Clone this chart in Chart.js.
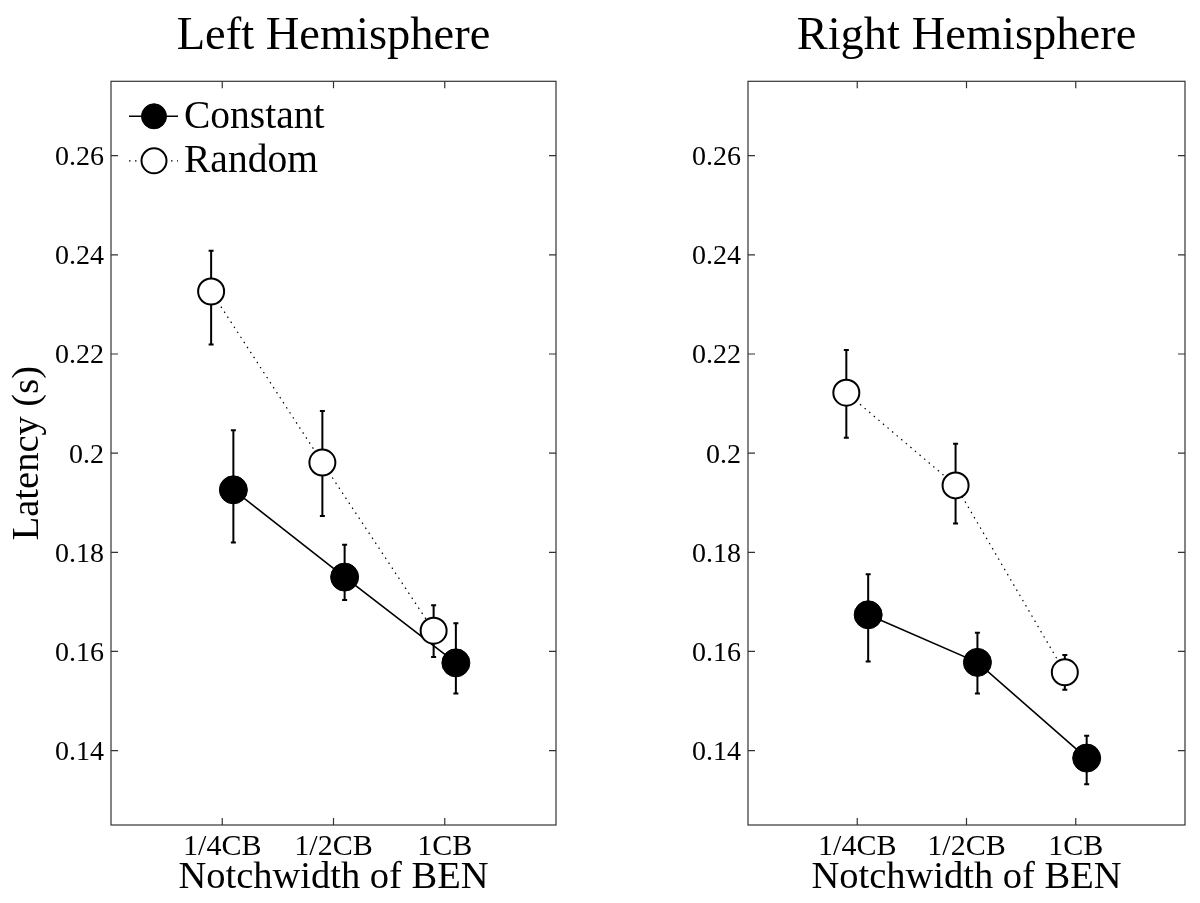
<!DOCTYPE html>
<html><head><meta charset="utf-8">
<script src="https://cdn.jsdelivr.net/npm/chart.js@4.4.1/dist/chart.umd.min.js"></script>
<style>
html,body{margin:0;padding:0;background:#fff;}
#wrap{position:relative;width:1200px;height:903px;overflow:hidden;}
#wrap canvas{position:absolute;top:0;}
</style></head>
<body><div id="wrap"><canvas id="leftChart" width="600" height="903" style="left:0;"></canvas><canvas id="rightChart" width="600" height="903" style="left:600px;"></canvas></div>
<script>
// ---------- data ----------
const categories = ['1/4CB', '1/2CB', '1CB'];
const categoryPositions = [1, 2, 3];
const seriesNames = ['Constant', 'Random'];
const yTickValues = [0.14, 0.16, 0.18, 0.20, 0.22, 0.24, 0.26];
const yTickLabels = ['0.14', '0.16', '0.18', '0.2', '0.22', '0.24', '0.26'];
const panelTitles = ['Left Hemisphere', 'Right Hemisphere'];
const xAxisTitle = 'Notchwidth of BEN';
const yAxisTitle = 'Latency (s)';

const leftConstant      = [0.1926, 0.1750, 0.1577];
const leftConstantUpper = [0.2046, 0.1815, 0.1657];
const leftConstantLower = [0.1820, 0.1704, 0.1515];
const leftRandom        = [0.2326, 0.1981, 0.1642];
const leftRandomUpper   = [0.2408, 0.2085, 0.1693];
const leftRandomLower   = [0.2219, 0.1873, 0.1589];

const rightConstant      = [0.1674, 0.1578, 0.1385];
const rightConstantUpper = [0.1756, 0.1638, 0.1430];
const rightConstantLower = [0.1580, 0.1515, 0.1332];
const rightRandom        = [0.2122, 0.1935, 0.1558];
const rightRandomUpper   = [0.2208, 0.2019, 0.1593];
const rightRandomLower   = [0.2031, 0.1858, 0.1523];

// ---------- styling ----------
const FONT = "'Liberation Serif', 'Times New Roman', serif";
const AXIS_COLOR = '#333333';
const DODGE = { Constant: 0.1, Random: -0.1 };

function pts(values, name) {
  return values.map((v, i) => ({ x: categoryPositions[i] + DODGE[name], y: v }));
}

const errorBarPlugin = {
  id: 'errorBars',
  beforeDatasetsDraw(chart) {
    const ctx = chart.ctx;
    const ys = chart.scales.y;
    ctx.save();
    ctx.strokeStyle = '#000';
    ctx.lineWidth = 2;
    chart.data.datasets.forEach((ds, di) => {
      const meta = chart.getDatasetMeta(di);
      meta.data.forEach((el, i) => {
        const x = el.x;
        const yt = ys.getPixelForValue(ds.errUpper[i]);
        const yb = ys.getPixelForValue(ds.errLower[i]);
        ctx.beginPath();
        ctx.moveTo(x, yt); ctx.lineTo(x, yb);
        ctx.moveTo(x - 2.5, yt); ctx.lineTo(x + 2.5, yt);
        ctx.moveTo(x - 2.5, yb); ctx.lineTo(x + 2.5, yb);
        ctx.stroke();
      });
    });
    ctx.restore();
  }
};

const boxPlugin = {
  id: 'matlabBox',
  afterDraw(chart) {
    const { ctx, chartArea: a } = chart;
    const xs = chart.scales.x, ys = chart.scales.y;
    const L = 7;
    ctx.save();
    ctx.strokeStyle = AXIS_COLOR;
    ctx.lineWidth = 1.2;
    ctx.strokeRect(a.left, a.top, a.right - a.left, a.bottom - a.top);
    ctx.beginPath();
    xs.ticks.forEach(t => {
      const px = xs.getPixelForValue(t.value);
      ctx.moveTo(px, a.bottom); ctx.lineTo(px, a.bottom - L);
      ctx.moveTo(px, a.top); ctx.lineTo(px, a.top + L);
    });
    ys.ticks.forEach(t => {
      const py = ys.getPixelForValue(t.value);
      ctx.moveTo(a.left, py); ctx.lineTo(a.left + L, py);
      ctx.moveTo(a.right, py); ctx.lineTo(a.right - L, py);
    });
    ctx.stroke();
    ctx.restore();
  }
};

const legendPlugin = {
  id: 'insideLegend',
  afterDraw(chart, args, opts) {
    if (!opts || !opts.show) return;
    const { ctx, chartArea: a } = chart;
    ctx.save();
    const rows = [0, 1].map(k => chart.data.datasets.find(d => d.label === seriesNames[k]));
    rows.forEach((ds, k) => {
      const y = a.top + 35 + k * 44.5;
      const x0 = a.left + 18, x1 = a.left + 67, xm = a.left + 43;
      ctx.beginPath();
      ctx.strokeStyle = ds.borderColor;
      ctx.lineWidth = ds.borderWidth;
      ctx.setLineDash(ds.borderDash || []);
      ctx.moveTo(x0, y); ctx.lineTo(x1, y);
      ctx.stroke();
      ctx.setLineDash([]);
      ctx.beginPath();
      ctx.arc(xm, y, 12.5, 0, Math.PI * 2);
      ctx.fillStyle = ds.pointBackgroundColor;
      ctx.fill();
      ctx.lineWidth = ds.pointBorderWidth;
      ctx.strokeStyle = ds.pointBorderColor;
      ctx.stroke();
      ctx.fillStyle = '#000';
      ctx.font = '39.5px ' + FONT;
      ctx.textBaseline = 'alphabetic';
      ctx.textAlign = 'left';
      ctx.fillText(ds.label, a.left + 73, y + 11.5);
    });
    ctx.restore();
  }
};

function makeChart(canvasId, idx, cVals, cUp, cLo, rVals, rUp, rLo) {
  const isLeft = idx === 0;
  return new Chart(document.getElementById(canvasId), {
    type: 'scatter',
    data: {
      datasets: [
        {
          label: seriesNames[0],
          data: pts(cVals, 'Constant'),
          errUpper: cUp, errLower: cLo,
          showLine: true,
          borderColor: '#000', borderWidth: 1.6,
          pointRadius: 14, pointHoverRadius: 14,
          pointBackgroundColor: '#000', pointBorderColor: '#000', pointBorderWidth: 1,
          order: 2
        },
        {
          label: seriesNames[1],
          data: pts(rVals, 'Random'),
          errUpper: rUp, errLower: rLo,
          showLine: true,
          borderColor: '#000', borderWidth: 1.2, borderDash: [1.5, 4.5],
          pointRadius: 13, pointHoverRadius: 13,
          pointBackgroundColor: '#fff', pointBorderColor: '#000', pointBorderWidth: 2,
          order: 1
        }
      ]
    },
    options: {
      responsive: false,
      animation: false,
      devicePixelRatio: 1,
      events: [],
      layout: { padding: { left: 0, right: isLeft ? 44 : 7, top: 0, bottom: 0 } },
      plugins: {
        legend: { display: false },
        tooltip: { enabled: false },
        title: {
          display: true,
          text: panelTitles[idx],
          fullSize: false,
          color: '#000',
          font: { family: FONT, size: 46.5, weight: 'normal' },
          padding: { top: 9, bottom: 16.5 }
        },
        insideLegend: { show: isLeft }
      },
      scales: {
        x: {
          type: 'linear', position: 'bottom', min: 0, max: 4,
          afterBuildTicks: s => { s.ticks = categoryPositions.map(v => ({ value: v })); },
          afterFit: s => { s.height = 78; },
          grid: { display: false, drawTicks: false },
          border: { display: false },
          ticks: {
            padding: 4, color: '#000', maxRotation: 0, autoSkip: false,
            font: { family: FONT, size: 30 },
            callback: v => categories[categoryPositions.indexOf(v)]
          },
          title: {
            display: true, text: xAxisTitle, color: '#000',
            font: { family: FONT, size: 38.5 },
            padding: { top: 0, bottom: 2 }
          }
        },
        y: {
          type: 'linear', position: 'left', min: 0.125, max: 0.275,
          afterBuildTicks: s => { s.ticks = yTickValues.map(v => ({ value: v })); },
          afterFit: s => { s.width = isLeft ? 111 : 148; },
          grid: { display: false, drawTicks: false },
          border: { display: false },
          ticks: {
            padding: 7, color: '#000', autoSkip: false, labelOffset: 2,
            font: { family: FONT, size: 28 },
            callback: v => {
              const i = yTickValues.findIndex(t => Math.abs(t - v) < 1e-9);
              return i >= 0 ? yTickLabels[i] : '';
            }
          },
          title: {
            display: isLeft, text: yAxisTitle, color: '#000',
            font: { family: FONT, size: 38.5 },
            padding: { top: 5, bottom: 0 }
          }
        }
      }
    },
    plugins: [errorBarPlugin, boxPlugin, legendPlugin]
  });
}

makeChart('leftChart', 0, leftConstant, leftConstantUpper, leftConstantLower, leftRandom, leftRandomUpper, leftRandomLower);
makeChart('rightChart', 1, rightConstant, rightConstantUpper, rightConstantLower, rightRandom, rightRandomUpper, rightRandomLower);
</script>
</body></html>
